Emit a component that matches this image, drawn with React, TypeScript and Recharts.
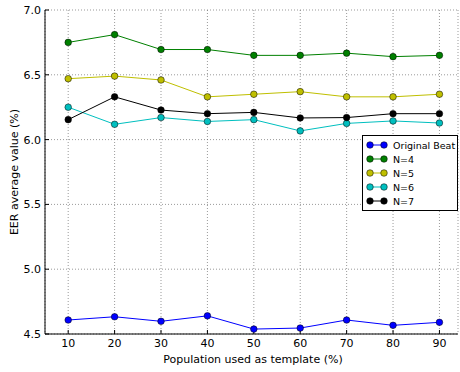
import React from 'react';
import { LineChart, Line, XAxis, YAxis, CartesianGrid, Legend } from 'recharts';

const populations = [10, 20, 30, 40, 50, 60, 70, 80, 90];
const originalBeat = [4.608, 4.633, 4.598, 4.64, 4.538, 4.546, 4.608, 4.567, 4.59];
const n4 = [6.75, 6.81, 6.695, 6.695, 6.65, 6.65, 6.667, 6.64, 6.65];
const n5 = [6.47, 6.49, 6.46, 6.33, 6.35, 6.37, 6.33, 6.33, 6.35];
const n6 = [6.25, 6.118, 6.17, 6.14, 6.154, 6.067, 6.125, 6.144, 6.128];
const n7 = [6.154, 6.33, 6.228, 6.2, 6.21, 6.167, 6.17, 6.2, 6.2];
const yTicks = [4.5, 5.0, 5.5, 6.0, 6.5, 7.0];

const series = [
  { key: 'orig', name: 'Original Beat', color: '#0000ff', values: originalBeat },
  { key: 'n4', name: 'N=4', color: '#008000', values: n4 },
  { key: 'n5', name: 'N=5', color: '#bfbf00', values: n5 },
  { key: 'n6', name: 'N=6', color: '#00bfbf', values: n6 },
  { key: 'n7', name: 'N=7', color: '#000000', values: n7 },
];

const data = populations.map((p, i) => {
  const row: Record<string, number> = { pop: p };
  series.forEach((s) => {
    row[s.key] = s.values[i];
  });
  return row;
});

const FONT = '"DejaVu Sans", sans-serif';

const LegendBox = () => (
  <div
    style={{
      border: '1px solid #000',
      background: '#fff',
      width: 96,
      padding: '2px 0',
      fontFamily: FONT,
      fontSize: 9.5,
      boxSizing: 'border-box',
      whiteSpace: 'nowrap',
    }}
  >
    {series.map((s) => (
      <div key={s.key} style={{ display: 'flex', alignItems: 'center', height: 14 }}>
        <svg width={30} height={14} style={{ flex: 'none' }}>
          <line x1={7} y1={7} x2={21} y2={7} stroke={s.color} strokeWidth={1} />
          <circle cx={7} cy={7} r={3.3} fill={s.color} stroke="#000" strokeWidth={0.5} />
          <circle cx={21} cy={7} r={3.3} fill={s.color} stroke="#000" strokeWidth={0.5} />
        </svg>
        <span>{s.name}</span>
      </div>
    ))}
  </div>
);

export default function App() {
  return (
    <div style={{ position: 'absolute', left: 0, top: 0, background: '#fff' }}>
      <LineChart
        width={460}
        height={372}
        data={data}
        margin={{ top: 10, right: 2, bottom: 0, left: 0 }}
      >
        <CartesianGrid stroke="#555" strokeDasharray="1 2" strokeWidth={0.6} />
        <XAxis
          dataKey="pop"
          type="number"
          domain={[5, 94]}
          ticks={populations}
          height={38}
          tickSize={-4}
          tickMargin={9}
          stroke="#000"
          tick={{ fill: '#000', fontSize: 11, fontFamily: FONT }}
          label={{
            content: () => (
              <text x={253} y={363} textAnchor="middle" fontSize={11} fontFamily={FONT} fill="#000">
                Population used as template (%)
              </text>
            ),
          }}
        />
        <XAxis
          xAxisId="top"
          dataKey="pop"
          type="number"
          domain={[5, 94]}
          ticks={populations}
          orientation="top"
          height={0}
          tickSize={-4}
          tickFormatter={() => ''}
          stroke="#000"
        />
        <YAxis
          type="number"
          domain={[4.5, 7.0]}
          ticks={yTicks}
          width={45}
          tickSize={-4}
          tickMargin={8}
          stroke="#000"
          tickFormatter={(v: number) => v.toFixed(1)}
          tick={{ fill: '#000', fontSize: 11, fontFamily: FONT }}
          label={{
            content: () => (
              <text
                x={14}
                y={172}
                transform="rotate(-90, 14, 172)"
                textAnchor="middle"
                dominantBaseline="central"
                fontSize={11}
                fontFamily={FONT}
                fill="#000"
              >
                EER average value (%)
              </text>
            ),
          }}
        />
        <YAxis
          yAxisId="right"
          type="number"
          domain={[4.5, 7.0]}
          ticks={yTicks}
          orientation="right"
          width={0}
          tickSize={-4}
          tickFormatter={() => ''}
          stroke="#000"
        />
        {series.map((s) => (
          <Line
            key={s.key}
            dataKey={s.key}
            name={s.name}
            stroke={s.color}
            strokeWidth={1}
            dot={{ r: 3.3, fill: s.color, stroke: '#000', strokeWidth: 0.5 }}
            isAnimationActive={false}
          />
        ))}
        <Legend
          layout="vertical"
          align="center"
          verticalAlign="middle"
          content={() => <LegendBox />}
          wrapperStyle={{ position: 'absolute', left: 362, top: 135, width: 'auto' }}
        />
      </LineChart>
    </div>
  );
}
